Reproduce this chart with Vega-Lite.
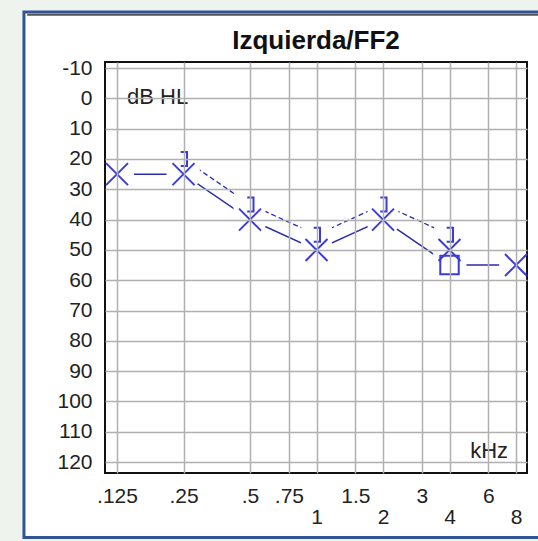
{
  "$schema": "https://vega.github.io/schema/vega-lite/v6.json",
  "width": 422,
  "height": 411,
  "autosize": {"type": "none"},
  "padding": {"left": 105, "top": 62, "right": 11, "bottom": 68},
  "background": "#eef3ee",
  "title": {"text": "Izquierda/FF2", "fontSize": 26, "fontWeight": "bold", "font": "Liberation Sans", "color": "#111111", "anchor": "middle", "frame": "group", "offset": -44},
  "config": {"view": {"stroke": null}, "font": "Liberation Sans", "axis": {"labelOverlap": false}},
  "data": {"values": [
    {"f": 0.125, "db": 25, "sym": "X", "line": "AC"},
    {"f": 0.25, "db": 25, "sym": "X", "line": "AC"},
    {"f": 0.5, "db": 40, "sym": "X", "line": "AC"},
    {"f": 1, "db": 50, "sym": "X", "line": "AC"},
    {"f": 2, "db": 40, "sym": "X", "line": "AC"},
    {"f": 4, "db": 50, "sym": "X", "line": "none"},
    {"f": 4, "db": 55, "sym": "Square", "line": "AC"},
    {"f": 8, "db": 55, "sym": "X", "line": "AC"},
    {"f": 0.25, "db": 20, "sym": "Bracket", "line": "BC"},
    {"f": 0.5, "db": 35, "sym": "Bracket", "line": "BC"},
    {"f": 1, "db": 45, "sym": "Bracket", "line": "BC"},
    {"f": 2, "db": 35, "sym": "Bracket", "line": "BC"},
    {"f": 4, "db": 45, "sym": "Bracket", "line": "BC"}
  ]},
  "layer": [
    {
      "data": {"values": [{}]},
      "mark": {"type": "rect", "fill": "white", "stroke": "#2f5597", "strokeWidth": 3, "clip": false},
      "encoding": {
        "x": {"datum": 0.0474, "type": "quantitative",
          "scale": {"type": "log", "base": 2, "domain": [0.1103, 8.97], "nice": false},
          "axis": {"values": [0.125, 0.25, 0.5, 0.75, 1, 1.5, 2, 3, 4, 6, 8], "tickCount": 20, "grid": true, "gridColor": "#b0b0b0", "gridWidth": 1.5, "ticks": false, "domain": false,
            "labelExpr": "replace(toString(datum.value), '0.', '.')", "labelFontSize": 21, "labelColor": "#222222",
            "labelPadding": {"condition": {"test": "datum.value == 1 || datum.value == 2 || datum.value == 4 || datum.value == 8", "value": 33}, "value": 12},
            "labelOverlap": false, "labelFlush": false, "labelBound": false, "title": null, "zindex": 1}},
        "x2": {"datum": 12},
        "y": {"datum": -28.5, "type": "quantitative",
          "scale": {"domain": [-12, 123.6], "reverse": true, "nice": false, "zero": false},
          "axis": {"values": [-10, 0, 10, 20, 30, 40, 50, 60, 70, 80, 90, 100, 110, 120], "tickCount": 20, "grid": true, "gridColor": "#b0b0b0", "gridWidth": 1.5, "ticks": false, "domain": false,
            "labelExpr": "toString(datum.value)", "labelFontSize": 21, "labelColor": "#222222", "labelPadding": 13, "labelOverlap": false, "labelFlush": false, "labelBound": false, "title": null, "zindex": 1}},
        "y2": {"datum": 144.9}
      }
    },
    {
      "data": {"values": [{}]},
      "mark": {"type": "rule", "stroke": "#555555", "strokeWidth": 2, "clip": false},
      "encoding": {
        "x": {"datum": 0.0490, "type": "quantitative", "scale": {"type": "log", "base": 2, "domain": [0.1103, 8.97], "nice": false}},
        "x2": {"datum": 12},
        "y": {"datum": -27.6, "type": "quantitative", "scale": {"domain": [-12, 123.6], "reverse": true, "nice": false, "zero": false}}
      }
    },
    {
      "transform": [{"filter": "datum.line == 'AC'"}],
      "mark": {"type": "line", "color": "#2b2bb0", "strokeWidth": 1.5},
      "encoding": {
        "x": {"field": "f", "type": "quantitative", "scale": {"type": "log", "base": 2, "domain": [0.1103, 8.97], "nice": false}},
        "y": {"field": "db", "type": "quantitative", "scale": {"domain": [-12, 123.6], "reverse": true, "nice": false, "zero": false}},
        "order": {"field": "f", "type": "quantitative"}
      }
    },
    {
      "transform": [{"filter": "datum.line == 'BC'"}],
      "mark": {"type": "line", "color": "#2b2bb0", "strokeWidth": 1.3, "strokeDash": [5, 3]},
      "encoding": {
        "x": {"field": "f", "type": "quantitative", "scale": {"type": "log", "base": 2, "domain": [0.1103, 8.97], "nice": false}},
        "y": {"field": "db", "type": "quantitative", "scale": {"domain": [-12, 123.6], "reverse": true, "nice": false, "zero": false}},
        "order": {"field": "f", "type": "quantitative"}
      }
    },
    {
      "mark": {"type": "point", "shape": "circle", "filled": true, "color": "white", "opacity": 1, "strokeWidth": 0},
      "encoding": {
        "x": {"field": "f", "type": "quantitative", "scale": {"type": "log", "base": 2, "domain": [0.1103, 8.97], "nice": false}},
        "y": {"field": "db", "type": "quantitative", "scale": {"domain": [-12, 123.6], "reverse": true, "nice": false, "zero": false}},
        "size": {"field": "sym", "type": "ordinal", "scale": {"domain": ["X", "Square", "Bracket"], "range": [1150, 1150, 450]}, "legend": null}
      }
    },
    {
      "data": {"values": [{}]},
      "mark": {"type": "rect", "fill": null, "fillOpacity": 0, "stroke": "#111111", "strokeWidth": 2, "clip": false},
      "encoding": {
        "x": {"datum": 0.1103, "type": "quantitative", "scale": {"type": "log", "base": 2, "domain": [0.1103, 8.97], "nice": false}},
        "x2": {"datum": 8.97},
        "y": {"datum": -12, "type": "quantitative", "scale": {"domain": [-12, 123.6], "reverse": true, "nice": false, "zero": false}},
        "y2": {"datum": 123.6}
      }
    },
    {
      "transform": [{"filter": "datum.sym == 'X'"}],
      "mark": {"type": "point", "shape": "M-1,-1L1,1M-1,1L1,-1", "size": 484, "filled": false, "color": "#3b3bdc", "strokeWidth": 2, "opacity": 1, "clip": false},
      "encoding": {
        "x": {"field": "f", "type": "quantitative", "scale": {"type": "log", "base": 2, "domain": [0.1103, 8.97], "nice": false}},
        "y": {"field": "db", "type": "quantitative", "scale": {"domain": [-12, 123.6], "reverse": true, "nice": false, "zero": false}}
      }
    },
    {
      "transform": [{"filter": "datum.sym == 'Square'"}],
      "mark": {"type": "point", "shape": "square", "size": 340, "filled": false, "color": "#3b3bdc", "strokeWidth": 2, "opacity": 1},
      "encoding": {
        "x": {"field": "f", "type": "quantitative", "scale": {"type": "log", "base": 2, "domain": [0.1103, 8.97], "nice": false}},
        "y": {"field": "db", "type": "quantitative", "scale": {"domain": [-12, 123.6], "reverse": true, "nice": false, "zero": false}}
      }
    },
    {
      "transform": [{"filter": "datum.sym == 'Bracket'"}],
      "mark": {"type": "point", "shape": "M-0.4,-1H0.5V1H-0.4", "size": 196, "filled": false, "color": "#3b3bdc", "strokeWidth": 2, "opacity": 1},
      "encoding": {
        "x": {"field": "f", "type": "quantitative", "scale": {"type": "log", "base": 2, "domain": [0.1103, 8.97], "nice": false}},
        "y": {"field": "db", "type": "quantitative", "scale": {"domain": [-12, 123.6], "reverse": true, "nice": false, "zero": false}}
      }
    },
    {
      "data": {"values": [{"label": "dB HL"}]},
      "mark": {"type": "text", "align": "left", "baseline": "middle", "dx": 10, "fontSize": 22, "color": "#222222"},
      "encoding": {
        "x": {"datum": 0.125, "type": "quantitative", "scale": {"type": "log", "base": 2, "domain": [0.1103, 8.97], "nice": false}},
        "y": {"datum": -0.5, "type": "quantitative", "scale": {"domain": [-12, 123.6], "reverse": true, "nice": false, "zero": false}},
        "text": {"field": "label"}
      }
    },
    {
      "data": {"values": [{"label": "kHz"}]},
      "mark": {"type": "text", "align": "right", "baseline": "middle", "dx": -8, "fontSize": 22, "color": "#222222"},
      "encoding": {
        "x": {"datum": 8, "type": "quantitative", "scale": {"type": "log", "base": 2, "domain": [0.1103, 8.97], "nice": false}},
        "y": {"datum": 116.4, "type": "quantitative", "scale": {"domain": [-12, 123.6], "reverse": true, "nice": false, "zero": false}},
        "text": {"field": "label"}
      }
    }
  ]
}
